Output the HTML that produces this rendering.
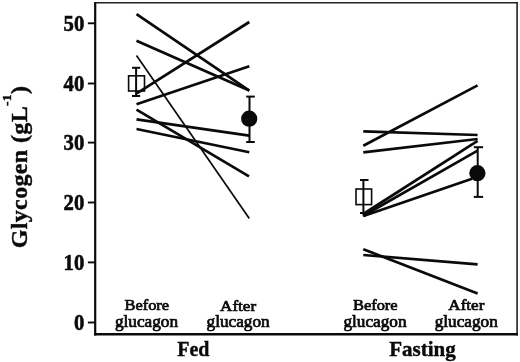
<!DOCTYPE html>
<html><head><meta charset="utf-8">
<style>
html,body{margin:0;padding:0;background:#fff;}
svg{display:block;}
text{font-family:"Liberation Serif",serif;fill:#0a0a0a;font-kerning:none;}
.b{font-weight:bold;}
</style></head>
<body>
<svg width="520" height="362" viewBox="0 0 520 362">
<rect width="520" height="362" fill="#fff"/>
<!-- frame -->
<g stroke="#222" fill="none">
<line x1="95" y1="2.7" x2="517.9" y2="2.7" stroke-width="1.6"/>
<line x1="517.1" y1="2" x2="517.1" y2="335.6" stroke-width="1.6"/>
<line x1="95.2" y1="2" x2="95.2" y2="335.6" stroke-width="2.2" stroke="#0a0a0a"/>
<line x1="94.1" y1="334.3" x2="517.9" y2="334.3" stroke-width="2.6" stroke="#0a0a0a"/>
</g>
<!-- ticks -->
<g stroke="#0a0a0a" stroke-width="1.9">
<line x1="87.9" y1="23.3" x2="95" y2="23.3"/>
<line x1="87.9" y1="83.5" x2="95" y2="83.5"/>
<line x1="87.9" y1="142.6" x2="95" y2="142.6"/>
<line x1="87.9" y1="202.5" x2="95" y2="202.5"/>
<line x1="87.9" y1="262.4" x2="95" y2="262.4"/>
<line x1="87.9" y1="322.5" x2="95" y2="322.5"/>
</g>
<g class="b" font-size="23" text-anchor="end" stroke="#0a0a0a" stroke-width="0.6">
<text transform="translate(84.3,31.1) scale(0.9,1)">50</text>
<text transform="translate(84.3,91.3) scale(0.9,1)">40</text>
<text transform="translate(84.3,150.4) scale(0.9,1)">30</text>
<text transform="translate(84.3,210.0) scale(0.9,1)">20</text>
<text transform="translate(84.3,270.2) scale(0.9,1)">10</text>
<text transform="translate(84.3,330.3) scale(0.9,1)">0</text>
</g>
<text class="b" font-size="24" letter-spacing="0.36" transform="translate(27.1,248.3) rotate(-90)" stroke="#0a0a0a" stroke-width="0.4">Glycogen (gL<tspan font-size="13.5" dy="-16.3">-1</tspan><tspan dy="16.3">)</tspan></text>
<!-- Fed lines -->
<g stroke="#0a0a0a" stroke-width="2.7" stroke-linecap="butt">
<line x1="136.5" y1="14.2" x2="249.3" y2="90.6"/>
<line x1="136.5" y1="40.8" x2="249.3" y2="90.4"/>
<line x1="136.5" y1="55.5" x2="249.3" y2="218.4" stroke-width="1.7"/>
<line x1="136.8" y1="93.3" x2="249.3" y2="22"/>
<line x1="136.5" y1="104.2" x2="249.3" y2="66.2"/>
<line x1="136.5" y1="109.7" x2="249" y2="176.3"/>
<line x1="136.5" y1="119.4" x2="249.3" y2="135.6"/>
<line x1="136.5" y1="129" x2="249.3" y2="152.2"/>
<!-- Fasting lines -->
<line x1="363.3" y1="145.8" x2="477.6" y2="85.4"/>
<line x1="363.3" y1="131.4" x2="477.6" y2="135"/>
<line x1="363.3" y1="152.3" x2="477.6" y2="139"/>
<line x1="362.5" y1="214.5" x2="477.6" y2="140.8"/>
<line x1="363" y1="216" x2="477.6" y2="150.7"/>
<line x1="363.5" y1="216" x2="472" y2="178.7"/>
<line x1="363.3" y1="249.2" x2="477.6" y2="293.4"/>
<line x1="363.3" y1="255" x2="477.6" y2="264.4"/>
</g>
<!-- markers -->
<g stroke="#0a0a0a" stroke-width="2" fill="none">
<!-- fed square -->
<line x1="136.1" y1="67.8" x2="136.1" y2="96"/>
<line x1="132" y1="67.8" x2="140.2" y2="67.8"/>
<line x1="132" y1="96" x2="140.2" y2="96"/>
<rect x="128.6" y="75.8" width="15.9" height="15.2" stroke-width="1.6"/>
<!-- fed circle -->
<line x1="249.5" y1="96.6" x2="249.5" y2="142"/>
<line x1="246.2" y1="96.6" x2="254.8" y2="96.6"/>
<line x1="246.2" y1="142" x2="254.8" y2="142"/>
<circle cx="249.2" cy="118.7" r="8.1" fill="#0a0a0a" stroke="none"/>
<!-- fasting square -->
<line x1="363.4" y1="180" x2="363.4" y2="213.5"/>
<line x1="360" y1="180" x2="368.5" y2="180"/>
<line x1="360" y1="213" x2="368.5" y2="213"/>
<rect x="356" y="189" width="15.6" height="15.6" stroke-width="1.6"/>
<!-- fasting circle -->
<line x1="477.7" y1="147.2" x2="477.7" y2="196.9"/>
<line x1="473.8" y1="147.2" x2="483.1" y2="147.2"/>
<line x1="473.8" y1="196.9" x2="483.1" y2="196.9"/>
<circle cx="477.4" cy="173.2" r="8.1" fill="#0a0a0a" stroke="none"/>
</g>
<!-- labels -->
<g text-anchor="middle" stroke="#0a0a0a" stroke-width="0.7">
<text transform="translate(146.8,309.9) scale(1.053,1)" font-size="15.6">Before</text>
<text transform="translate(146.5,326.6) scale(1.09,1)" font-size="15.8">glucagon</text>
<text transform="translate(238.1,310.5) scale(1.095,1)" font-size="15.6">After</text>
<text transform="translate(238.1,326.6) scale(1.09,1)" font-size="15.8">glucagon</text>
<text transform="translate(375.3,309.9) scale(1.053,1)" font-size="15.6">Before</text>
<text transform="translate(375,326.6) scale(1.09,1)" font-size="15.8">glucagon</text>
<text transform="translate(466.3,310.3) scale(1.095,1)" font-size="15.6">After</text>
<text transform="translate(466.2,326.6) scale(1.09,1)" font-size="15.8">glucagon</text>
</g>
<g class="b" font-size="21" text-anchor="middle" stroke="#0a0a0a" stroke-width="0.4">
<text transform="translate(193.3,356.1) scale(0.96,1)" font-size="20.8">Fed</text>
<text x="422.4" y="355.9">Fasting</text>
</g>
</svg>
</body></html>
